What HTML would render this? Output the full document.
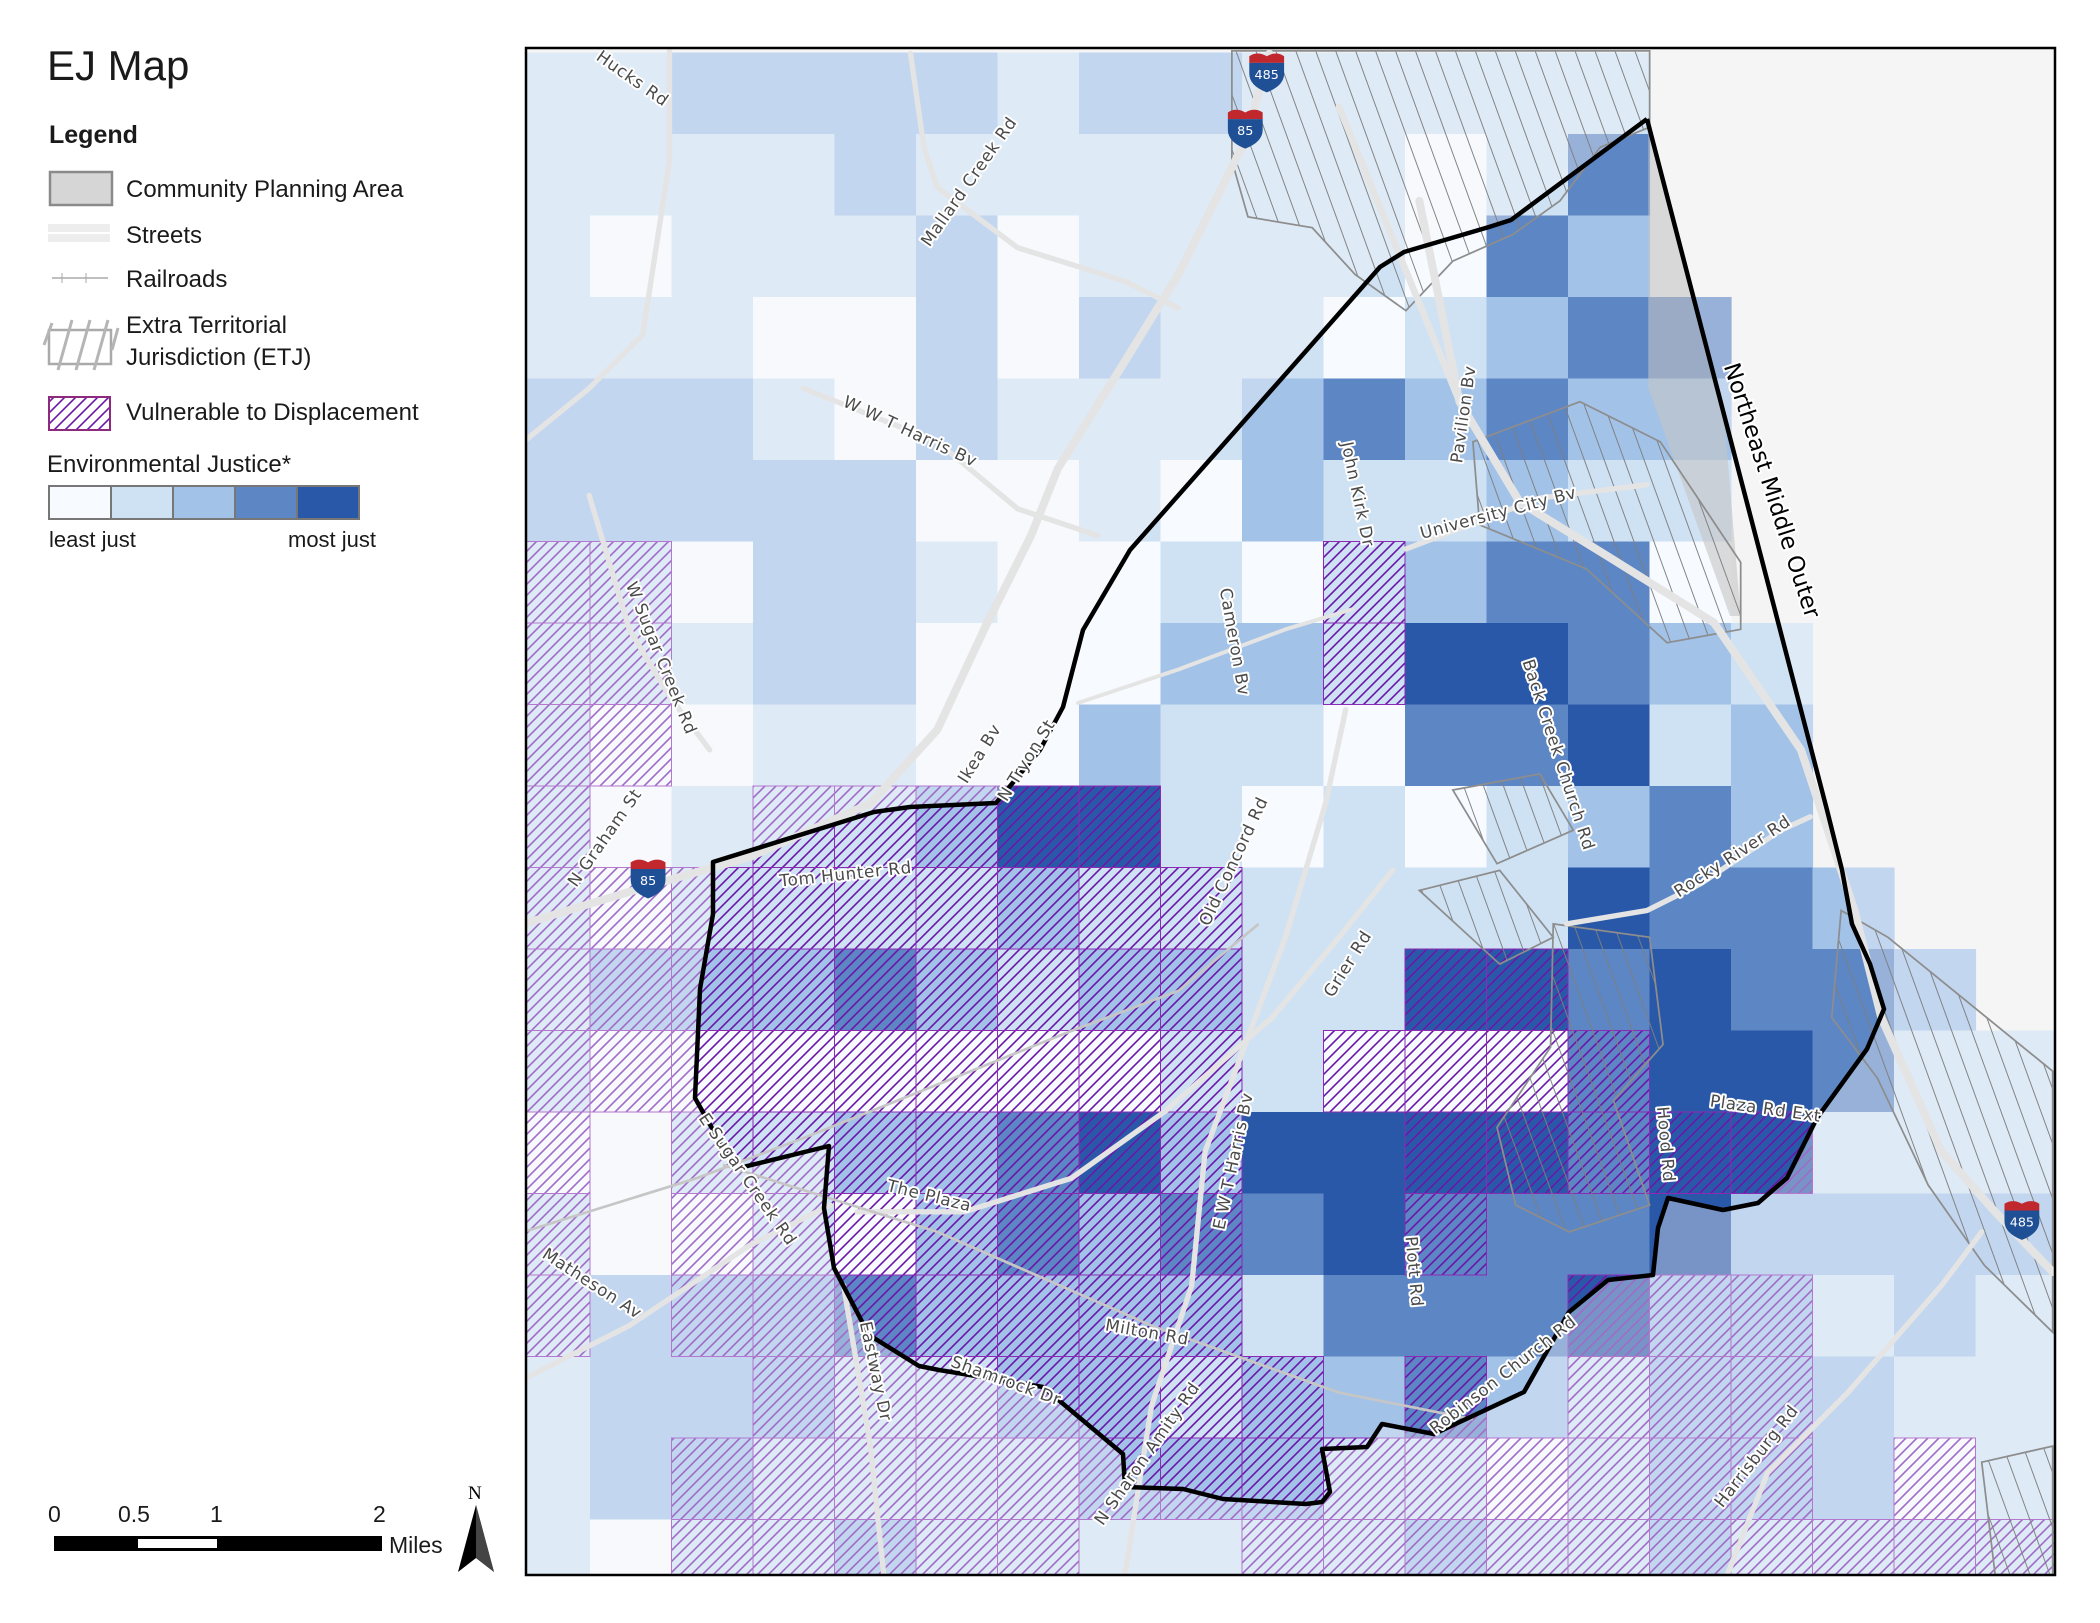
<!DOCTYPE html>
<html><head><meta charset="utf-8">
<style>
html,body{margin:0;padding:0;background:#fff;}
svg{display:block;}
.lg{font-family:"Liberation Sans",sans-serif;fill:#1a1a1a;}
.rl{font-family:"DejaVu Sans","Liberation Sans",sans-serif;font-size:12.5px;fill:#4a4a4a;stroke:#fff;stroke-width:3px;paint-order:stroke;stroke-linejoin:round;text-anchor:middle;letter-spacing:0.5px;}
</style></head>
<body>
<svg id="map" width="2100" height="1623" viewBox="0 0 2100 1623" xmlns="http://www.w3.org/2000/svg">
<defs>
<pattern id="hatch" patternUnits="userSpaceOnUse" width="11" height="11">
<path d="M-1,1 l2,-2 M0,11 l11,-11 M10,12 l2,-2" stroke="#6a16a8" stroke-width="1.6"/>
</pattern>
<pattern id="etj" patternUnits="userSpaceOnUse" width="14" height="14" patternTransform="rotate(-20)">
<line x1="0" y1="0" x2="0" y2="14" stroke="#7e7e7e" stroke-width="1.4"/>
</pattern>
<clipPath id="frameclip"><rect x="526" y="48" width="1529" height="1527"/></clipPath>
</defs>

<g>
<text class="lg" x="47" y="80" font-size="42">EJ Map</text>
<text class="lg" x="49" y="143" font-size="25" font-weight="bold">Legend</text>
<rect x="50" y="172" width="62" height="33" fill="#d6d6d6" stroke="#8a8a8a" stroke-width="2.5"/>
<text class="lg" x="126" y="197" font-size="24">Community Planning Area</text>
<rect x="48" y="224" width="62" height="18" fill="#ededed"/>
<line x1="48" y1="233" x2="110" y2="233" stroke="#fff" stroke-width="2"/>
<text class="lg" x="126" y="243" font-size="24">Streets</text>
<line x1="52" y1="278" x2="108" y2="278" stroke="#aaa" stroke-width="1.5"/>
<line x1="62" y1="273" x2="62" y2="283" stroke="#aaa"/><line x1="86" y1="273" x2="86" y2="283" stroke="#aaa"/>
<text class="lg" x="126" y="287" font-size="24">Railroads</text>
<g>
<rect x="49" y="330" width="62" height="34" fill="none" stroke="#aaa" stroke-width="2.5"/>
<path d="M44,345 l8,-22 M58,370 l14,-50 M76,370 l14,-50 M94,370 l14,-50 M112,350 l6,-22" stroke="#b5b5b5" stroke-width="3"/>
</g>
<text class="lg" x="126" y="333" font-size="24">Extra Territorial</text>
<text class="lg" x="126" y="365" font-size="24">Jurisdiction (ETJ)</text>
<rect x="49" y="397" width="61" height="33" fill="url(#hatch)" stroke="#8e2a7e" stroke-width="2"/>
<text class="lg" x="126" y="420" font-size="24">Vulnerable to Displacement</text>
<text class="lg" x="47" y="472" font-size="24">Environmental Justice*</text>
<g>
<rect x="49" y="486" width="62" height="33" fill="#f7fbff" stroke="#777" stroke-width="2"/>
<rect x="111" y="486" width="62" height="33" fill="#cfe2f4" stroke="#777" stroke-width="2"/>
<rect x="173" y="486" width="62" height="33" fill="#a2c2e8" stroke="#777" stroke-width="2"/>
<rect x="235" y="486" width="62" height="33" fill="#5d86c5" stroke="#777" stroke-width="2"/>
<rect x="297" y="486" width="62" height="33" fill="#2a58a8" stroke="#777" stroke-width="2"/>
</g>
<text class="lg" x="49" y="547" font-size="22">least just</text>
<text class="lg" x="288" y="547" font-size="22">most just</text>
</g>

<g>
<text class="lg" x="48" y="1522" font-size="23">0</text>
<text class="lg" x="118" y="1522" font-size="23">0.5</text>
<text class="lg" x="210" y="1522" font-size="23">1</text>
<text class="lg" x="373" y="1522" font-size="23">2</text>
<rect x="54" y="1536" width="328" height="15" fill="#000"/>
<rect x="138" y="1539" width="79" height="9" fill="#fff"/>
<text class="lg" x="389" y="1553" font-size="23">Miles</text>
</g>
<g>
<text x="468" y="1499" font-family="Liberation Serif,serif" font-size="19" fill="#000">N</text>
<path d="M476,1505 L458,1572 L476,1558 L494,1572 Z" fill="#000"/>
<path d="M476,1505 L476,1558 L494,1572 Z" fill="#444"/>
</g>

<g clip-path="url(#frameclip)">
<rect x="526" y="48" width="1529" height="1527" fill="#f4f4f4"/>
<g id="cells"></g>
<g id="hatches"></g>
<path id="fade" fill="#f6f6fa" fill-opacity="0.38" fill-rule="evenodd"/>
<g transform="scale(1.339)">
<polygon points="1231,92 1288,315 1300,460 1292,460 1231,290" fill="#c4c4c4" fill-opacity="0.6"/>
<g fill="url(#etj)" stroke="#8d8d8d" stroke-width="1.3">
<polygon points="920,38 1232,38 1232,95 1195,110 1165,150 1130,175 1085,195 1050,232 1012,205 980,170 932,162 920,120"/>
<polygon points="1100,330 1180,300 1240,330 1300,420 1300,470 1245,480 1185,425 1105,392"/>
<polygon points="1375,680 1410,700 1533,800 1533,995 1482,945 1440,885 1402,805 1368,760"/>
<polygon points="1480,1092 1533,1080 1533,1176 1490,1176"/>
<polygon points="1160,690 1232,700 1242,780 1205,822 1232,900 1172,920 1132,900 1118,842 1158,782"/>
<polygon points="1085,590 1150,578 1175,620 1118,645"/>
<polygon points="1060,665 1120,650 1160,700 1120,720"/>
</g>
<g fill="none" stroke="#e4e4e4" stroke-linecap="round" stroke-linejoin="round">
<polyline stroke-width="6" points="948,40 930,105 880,205 840,270 790,350 770,400 735,470 700,545 650,600 560,640 490,660 391,690"/>
<polyline stroke-width="6" points="1060,150 1090,300 1135,375 1200,415 1280,465 1345,560 1385,680 1405,760 1450,860 1490,905 1533,950"/>
<polyline stroke-width="5" points="1000,80 1090,300"/>
<polyline stroke-width="4" points="1050,410 1150,372 1230,362"/>
<polyline stroke-width="4" points="600,290 700,330 760,380 820,400"/>
<polyline stroke-width="4" points="680,40 690,110 700,140 760,185 840,210 880,230"/>
<polyline stroke-width="4" points="391,330 440,290 480,250 500,120 500,38"/>
<polyline stroke-width="4" points="440,370 470,470 500,520 530,560"/>
<polyline stroke-width="4" points="1005,530 990,600 960,700 930,780 900,860 890,960 860,1050 840,1176"/>
<polyline stroke-width="4" points="1040,650 1000,700 950,760 870,830 800,880 720,905 640,905"/>
<polyline stroke-width="4" points="1170,690 1230,680 1270,660 1330,620 1352,610"/>
<polyline stroke-width="4" points="1290,1176 1320,1100 1380,1040 1450,960 1480,920"/>
<polyline stroke-width="4" points="391,1030 470,990 560,930 620,900"/>
<polyline stroke-width="4" points="660,1176 650,1080 630,960"/>
<polyline stroke-width="3" points="805,525 880,500 960,470 1010,455"/>
</g>
<polyline fill="none" stroke="#c6c6c6" stroke-width="2" points="940,690 880,740 800,770 700,810 600,850 520,880 391,920"/>
<polyline fill="none" stroke="#c6c6c6" stroke-width="2" points="540,870 700,920 860,990 1000,1040 1100,1060"/>
</g>
<polyline id="boundary" fill="none" stroke="#000" stroke-width="4.5" stroke-linejoin="round"/>
<g transform="scale(1.339)">
<text class="rl" transform="translate(470,62) rotate(35)">Hucks Rd</text>
<text class="rl" transform="translate(727,138) rotate(-55)">Mallard Creek Rd</text>
<text class="rl" transform="translate(678,326) rotate(25)">W W T Harris Bv</text>
<text class="rl" transform="translate(490,493) rotate(68)">W Sugar Creek Rd</text>
<text class="rl" transform="translate(455,628) rotate(-55)">N Graham St</text>
<text class="rl" transform="translate(632,657) rotate(-6)">Tom Hunter Rd</text>
<text class="rl" transform="translate(735,565) rotate(-58)">Ikea Bv</text>
<text class="rl" transform="translate(770,570) rotate(-58)">N Tryon St</text>
<text class="rl" transform="translate(918,480) rotate(80)">Cameron Bv</text>
<text class="rl" transform="translate(1010,370) rotate(78)">John Kirk Dr</text>
<text class="rl" transform="translate(1097,310) rotate(-82)">Pavilion Bv</text>
<text class="rl" transform="translate(1120,387) rotate(-15)">University City Bv</text>
<text class="rl" transform="translate(1160,565) rotate(72)">Back Creek Church Rd</text>
<text class="rl" transform="translate(925,645) rotate(-65)">Old Concord Rd</text>
<text class="rl" transform="translate(1296,643) rotate(-33)">Rocky River Rd</text>
<text class="rl" transform="translate(1010,722) rotate(-58)">Grier Rd</text>
<text class="rl" transform="translate(555,883) rotate(55)">E Sugar Creek Rd</text>
<text class="rl" transform="translate(693,897) rotate(14)">The Plaza</text>
<text class="rl" transform="translate(925,868) rotate(-78)">E W T Harris Bv</text>
<text class="rl" transform="translate(1240,855) rotate(85)">Hood Rd</text>
<text class="rl" transform="translate(1318,832) rotate(8)">Plaza Rd Ext</text>
<text class="rl" transform="translate(440,962) rotate(33)">Matheson Av</text>
<text class="rl" transform="translate(650,1025) rotate(78)">Eastway Dr</text>
<text class="rl" transform="translate(856,999) rotate(10)">Milton Rd</text>
<text class="rl" transform="translate(750,1035) rotate(20)">Shamrock Dr</text>
<text class="rl" transform="translate(1052,950) rotate(85)">Plott Rd</text>
<text class="rl" transform="translate(860,1088) rotate(-55)">N Sharon Amity Rd</text>
<text class="rl" transform="translate(1125,1030) rotate(-38)">Robinson Church Rd</text>
<text class="rl" transform="translate(1315,1090) rotate(-52)">Harrisburg Rd</text>
<text transform="translate(1318,368) rotate(72)" font-family="DejaVu Sans,sans-serif" font-size="17" fill="#000" stroke="#fff" stroke-width="3" paint-order="stroke" text-anchor="middle">Northeast Middle Outer</text>
</g>
<g id="shields" transform="scale(1.339)"></g>
</g>
<rect x="526" y="48" width="1529" height="1527" fill="none" stroke="#000" stroke-width="2.5"/>
</svg>
<script>
const levelColors = ['#f7fbff','#cfe2f4','#a2c2e8','#5d86c5','#2a58a8'];
const outsideColors = ['#f2f5fb','#d6e0f0','#b4c4e2','#8aa3d1','#6684c0'];
const gridLevels = [
"11222212211111.....",
"11112111111013.....",
"10111201111032.....",
"111002021101233....",
"222102111232322....",
"222220010211211....",
"110221001012330....",
"1112200022144321...",
"1001100211033412...",
"1011124410101232...",
"10111121111114332..",
"122232122114434332.",
"1000000011000344311",
"0011223424444344111",
"1001023233433342222",
"1222322221333422121",
"1222112212232122211",
"1221111222110122201",
"1011211111121121111"
];
const hatchGrid = [
"...................",
"...................",
"...................",
"...................",
"...................",
"...................",
"xx........x........",
"xx........x........",
"xx.................",
"x..xxxxx...........",
"xxxxxxxxx..........",
"xxxxxxxxx..xx......",
"xxxxxxxxx.xxxx.....",
"x.xxxxxxx..xxxxx...",
"x.xxxxxxx..x.......",
"x.xxxxxxx....xxx...",
"...xxxxxxx.x.xxx...",
"..xxxxxxxxxxxxxx.x.",
"..xxxxx..xxxxxxxxxx"
];
const boundaryPts = [[1647,119],[1511,220],[1489,227],[1404,252],[1380,267],[1306,351],[1130,550],[1083,630],[1063,707],[1040,750],[996,803],[910,807],[874,812],[713,862],[713,914],[700,989],[695,1098],[735,1169],[829,1146],[824,1208],[834,1268],[869,1335],[919,1366],[939,1370],[1043,1387],[1123,1454],[1125,1487],[1183,1489],[1223,1499],[1306,1504],[1322,1502],[1330,1492],[1322,1449],[1367,1447],[1382,1424],[1434,1434],[1524,1392],[1569,1312],[1608,1280],[1653,1275],[1658,1228],[1668,1198],[1723,1210],[1758,1203],[1787,1178],[1817,1118],[1867,1049],[1884,1009],[1870,964],[1852,924],[1842,870],[1827,810],[1647,119]];
const shieldLabels = ['485','85','85','485'];
const shieldPos = [[946,55],[930,97],[484,657],[1510,912]];

const NS='http://www.w3.org/2000/svg';
const cellSize=81.5;
function colX(c){return c===0?508.5:590+(c-1)*cellSize;}
function rowY(r){return 52.5+r*cellSize;}
const cellsG=document.getElementById('cells');
const hatchG=document.getElementById('hatches');
gridLevels.forEach((row,r)=>{
  for(let c=0;c<row.length;c++){
    const ch=row[c]; if(ch==='.') continue;
    const rc=document.createElementNS(NS,'rect');
    rc.setAttribute('x',colX(c));rc.setAttribute('y',rowY(r));
    rc.setAttribute('width',cellSize+0.6);rc.setAttribute('height',cellSize+0.6);
    rc.setAttribute('fill',levelColors[+ch]);
    
    
    cellsG.appendChild(rc);
  }
});
hatchGrid.forEach((row,r)=>{
  for(let c=0;c<row.length;c++){
    if(row[c]!=='x') continue;
    const rc=document.createElementNS(NS,'rect');
    rc.setAttribute('x',colX(c));rc.setAttribute('y',rowY(r));
    rc.setAttribute('width',cellSize);rc.setAttribute('height',cellSize);
    rc.setAttribute('fill','url(#hatch)');
    rc.setAttribute('stroke','#8b2bb5');rc.setAttribute('stroke-width','1');
    
    
    hatchG.appendChild(rc);
  }
});
const bp=boundaryPts.map(p=>p.join(',')).join(' ');
document.getElementById('boundary').setAttribute('points',bp);
document.getElementById('fade').setAttribute('d','M526,48 H2055 V1575 H526 Z M'+boundaryPts.map(p=>p.join(',')).join(' L')+' Z');
const sg=document.getElementById('shields');
shieldLabels.forEach((lab,i)=>{
  const [x,y]=shieldPos[i];
  const g=document.createElementNS(NS,'g');
  
  
  g.setAttribute('transform','translate('+x+','+y+')');
  g.innerHTML='<path d="M-13,-13 q6,-4 13,0 q7,-4 13,0 l0,5 l-26,0 z" fill="#c0282e"/><path d="M-13,-8 h26 v8 q0,9 -13,14 q-13,-5 -13,-14 z" fill="#1f4f95"/><text x="0" y="4" text-anchor="middle" font-family="DejaVu Sans,sans-serif" font-size="9.5" fill="#fff">'+lab+'</text>';
  sg.appendChild(g);
});
</script>
</body></html>
